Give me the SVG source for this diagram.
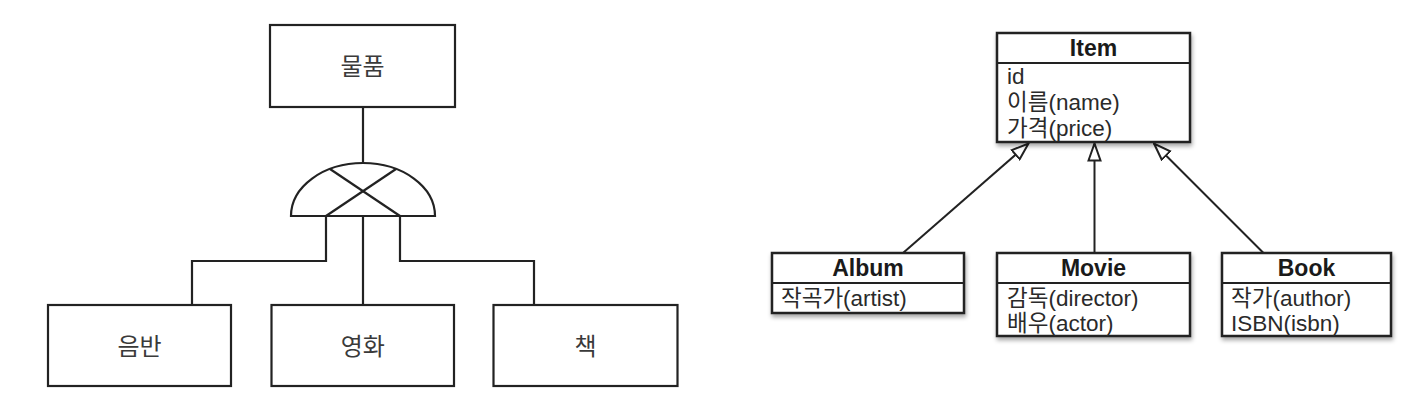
<svg xmlns="http://www.w3.org/2000/svg" width="1427" height="404" viewBox="0 0 1427 404">
  <style>
    .box { fill: #ffffff; stroke: #222222; stroke-width: 2.2; }
    .line { fill: none; stroke: #222222; stroke-width: 2.2; }
    .ko { font-family: "Noto Sans CJK KR", "Noto Sans", sans-serif; font-size: 24px; fill: #3a3a3a; text-anchor: middle; }
    .ubox { fill: #ffffff; stroke: #222222; stroke-width: 2.5; }
    .title { font-family: "Liberation Sans", "Noto Sans CJK KR", sans-serif; font-size: 23px; font-weight: bold; fill: #1a1a1a; text-anchor: middle; }
    .attr { font-family: "Liberation Sans", "Noto Sans CJK KR", sans-serif; font-size: 22.5px; fill: #2a2a2a; }
    .conn { fill: none; stroke: #222222; stroke-width: 2; }
  </style>
  <defs>
    <filter id="shadow" x="-10%" y="-10%" width="125%" height="140%">
      <feDropShadow dx="1" dy="3" stdDeviation="2" flood-color="#000000" flood-opacity="0.35"/>
    </filter>
    <marker id="tri" viewBox="0 0 19 15" refX="18" refY="7.5" markerWidth="19" markerHeight="15" markerUnits="userSpaceOnUse" orient="auto">
      <path d="M1,1.5 L18,7.5 L1,13.5 Z" fill="#ffffff" stroke="#222222" stroke-width="2"/>
    </marker>
  </defs>

  <!-- Left: ER-style category diagram -->
  <g id="connectors-left">
    <line class="line" x1="363" y1="107" x2="363" y2="163"/>
    <polyline class="line" points="326,216 326,261 192,261 192,305"/>
    <line class="line" x1="363" y1="216" x2="363" y2="305"/>
    <polyline class="line" points="400,216 400,261 534,261 534,305"/>
  </g>
  <g id="category-symbol">
    <path class="line" d="M291,216 A72,53 0 0 1 435,216 Z"/>
    <line class="line" x1="330" y1="169" x2="400" y2="216"/>
    <line class="line" x1="396" y1="169" x2="326" y2="216"/>
  </g>
  <g id="node-item-ko">
    <rect class="box" x="270" y="25" width="185" height="82"/>
    <text class="ko" x="362.5" y="75">물품</text>
  </g>
  <g id="node-album-ko">
    <rect class="box" x="48" y="305" width="183" height="81"/>
    <text class="ko" x="139.5" y="355">음반</text>
  </g>
  <g id="node-movie-ko">
    <rect class="box" x="271.5" y="305" width="182.5" height="81"/>
    <text class="ko" x="362.8" y="355">영화</text>
  </g>
  <g id="node-book-ko">
    <rect class="box" x="493.5" y="305" width="184" height="81"/>
    <text class="ko" x="585.5" y="355">책</text>
  </g>

  <!-- Right: UML class diagram -->
  <g id="connectors-right">
    <line class="conn" x1="903" y1="253" x2="1028.5" y2="143.5" marker-end="url(#tri)"/>
    <line class="conn" x1="1094.5" y1="253" x2="1094.5" y2="143.5" marker-end="url(#tri)"/>
    <line class="conn" x1="1263.5" y1="253" x2="1154" y2="143.5" marker-end="url(#tri)"/>
  </g>
  <g id="class-item">
    <rect class="ubox" x="997" y="33" width="193" height="109" filter="url(#shadow)"/>
    <line class="conn" x1="997" y1="63" x2="1190" y2="63"/>
    <text class="title" x="1093.5" y="56">Item</text>
    <text class="attr" x="1007" y="84">id</text>
    <text class="attr" x="1007" y="110">이름(name)</text>
    <text class="attr" x="1007" y="136">가격(price)</text>
  </g>
  <g id="class-album">
    <rect class="ubox" x="772" y="253" width="192" height="60" filter="url(#shadow)"/>
    <line class="conn" x1="772" y1="283" x2="964" y2="283"/>
    <text class="title" x="868" y="276">Album</text>
    <text class="attr" x="781" y="306">작곡가(artist)</text>
  </g>
  <g id="class-movie">
    <rect class="ubox" x="997" y="253" width="193" height="83" filter="url(#shadow)"/>
    <line class="conn" x1="997" y1="283" x2="1190" y2="283"/>
    <text class="title" x="1093.5" y="276">Movie</text>
    <text class="attr" x="1007" y="306">감독(director)</text>
    <text class="attr" x="1007" y="331">배우(actor)</text>
  </g>
  <g id="class-book">
    <rect class="ubox" x="1222" y="253" width="169" height="83" filter="url(#shadow)"/>
    <line class="conn" x1="1222" y1="283" x2="1391" y2="283"/>
    <text class="title" x="1306.5" y="276">Book</text>
    <text class="attr" x="1231" y="306">작가(author)</text>
    <text class="attr" x="1231" y="331">ISBN(isbn)</text>
  </g>
</svg>
